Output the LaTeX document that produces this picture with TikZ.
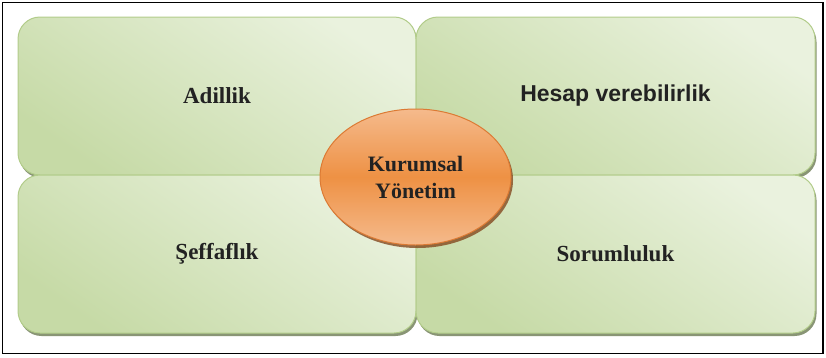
\documentclass[tikz,border=0pt]{standalone}
\usepackage{fontspec}
\setmainfont{Liberation Serif}
\newfontfamily\hesapfont{Liberation Sans}
\usetikzlibrary{shapes.geometric,shadows}

\definecolor{boxlight}{HTML}{EAF2DE}
\definecolor{boxdark}{HTML}{C6DAA6}
\definecolor{boxline}{HTML}{B2CC8A}
\definecolor{orlight}{HTML}{F5BA8C}
\definecolor{ormid}{HTML}{EE9144}
\definecolor{orline}{HTML}{DC7A33}
\definecolor{textdark}{HTML}{222222}

\tikzstyle{quad} = [draw=boxline, line width=1pt, rounded corners=22pt,
  minimum height=158pt, top color=boxlight, bottom color=boxdark, shading angle=-35,
  drop shadow={shadow xshift=1.5pt, shadow yshift=-3pt, fill=black!40!boxline, opacity=0.8},
  text=textdark, font=\bfseries\fontsize{23}{27}\selectfont]
\tikzstyle{center} = [ellipse, draw=orline, line width=1pt, minimum width=191pt, minimum height=136pt,
  top color=orlight, bottom color=orlight, middle color=ormid,
  drop shadow={shadow xshift=2pt, shadow yshift=-3pt, fill=orline!60!black, opacity=0.8},
  align=center, text=textdark, font=\bfseries\fontsize{22}{27}\selectfont]

\begin{document}
\begin{tikzpicture}[x=1pt, y=1pt]
  \useasboundingbox (0,0) rectangle (826,-357);
  \draw[line width=1.3pt] (2.5,-2.5) rectangle (823,-353.5);

  \node[quad, minimum width=398pt](adil)    at (217,-96)    {Adillik};
  \node[quad, minimum width=399pt](hesap)   at (615.5,-96)  {\hesapfont Hesap verebilirlik};
  \node[quad, minimum width=398pt](seffaf)  at (217,-254)   {Şeffaflık};
  \node[quad, minimum width=399pt](sorum)   at (615.5,-254) {Sorumluluk};

  \node[center](yonetim) at (415.5,-177) {Kurumsal\\Yönetim};

\end{tikzpicture}
\end{document}
